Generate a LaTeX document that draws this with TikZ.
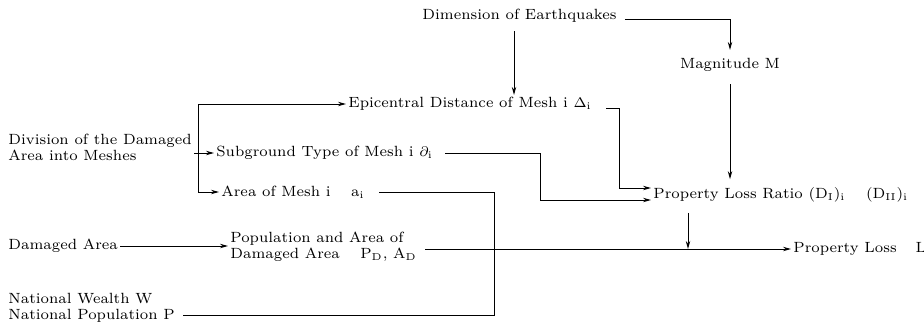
\documentclass[tikz,border=0pt]{standalone}
\usepackage{amsmath}
\usetikzlibrary{arrows.meta,calc,positioning}

\begin{document}
\begin{tikzpicture}[x=0.5pt,y=-0.5pt,
  txt/.style={inner sep=1pt,anchor=west,align=left,
              font=\fontsize{7.4}{8}\selectfont},
  arr/.style={-{Stealth[length=4pt,width=2.2pt]},line width=0.5pt},
  ln/.style={line width=0.5pt}]
\useasboundingbox (0,0) rectangle (924,326);

% earthquake side
\node[txt] (dim) at (420,16) {Dimension of Earthquakes};
\node[txt,anchor=center] (mag) at (730,65) {Magnitude M};
\node[txt] (epi) at (346,104) {Epicentral Distance of Mesh i $\Delta_{\mathrm{i}}$};

% mesh side
\node[txt] (divide) at (6,147) {Division of the Damaged\\Area into Meshes};
\node[txt] (sub) at (214,153) {Subground Type of Mesh i $\partial_{\mathrm{i}}$};
\node[txt] (meshA) at (219,192) {Area of Mesh i \quad a$_{\mathrm{i}}$};
\node[txt] (ratio) at (651,195)
  {Property Loss Ratio (D$_{\mathrm{I}}$)$_{\mathrm{i}}$ \quad (D$_{\mathrm{II}}$)$_{\mathrm{i}}$};

% area and loss
\node[txt] (damA) at (6,246) {Damaged Area};
\node[txt] (popA) at (228,247) {Population and Area of\\Damaged Area \quad P$_{\mathrm{D}}$, A$_{\mathrm{D}}$};
\node[txt] (loss) at (791,249) {Property Loss \enspace\ L};
\node[txt] (natW) at (6,308) {National Wealth W\\National Population P};

\coordinate (xe) at (514,0);
\coordinate (xr) at (619,0);
\coordinate (xs) at (540,0);
\coordinate (br) at (198,0);
\coordinate (xa) at (494,0);
\coordinate (xd) at (688,0);

\draw[arr] ([xshift=3pt,yshift=-2pt]dim.east) -| ([yshift=3pt]mag.north);
\draw[arr] ([yshift=-3pt]dim.south -| xe) -- (epi.north -| xe);
\draw[arr] ([yshift=-5pt]mag.south) -- ([yshift=3pt]mag.south |- ratio.north);
\draw[arr] ([xshift=6pt,yshift=-2pt]epi.east) -| ($(xr |- ratio.west)+(0,-7)$)
  -- ($(ratio.west)+(0,-7)$);
\draw[arr] ([xshift=5pt]sub.east) -| ($(xs |- ratio.west)+(0,5)$)
  -- ($(ratio.west)+(0,5)$);

\draw[arr] (divide.east |- sub.west) -- (sub.west);
\draw[ln] (br |- epi.west) -- (br |- meshA.west);
\draw[arr] (br |- epi.west) -- (epi.west);
\draw[arr] (br |- meshA.west) -- (meshA.west);

\draw[ln] ([xshift=6pt]meshA.east) -| ([yshift=-3.5pt]natW.east -| xa)
  -- ([xshift=3pt,yshift=-3.5pt]natW.east);
\draw[arr] (damA.east) -- (popA.west |- damA.east);
\draw[arr] ([xshift=3pt]popA.east |- loss.west) -- (loss.west);
\draw[arr] ([yshift=-4pt]ratio.south -| xd) -- (loss.west -| xd);
\end{tikzpicture}
\end{document}
